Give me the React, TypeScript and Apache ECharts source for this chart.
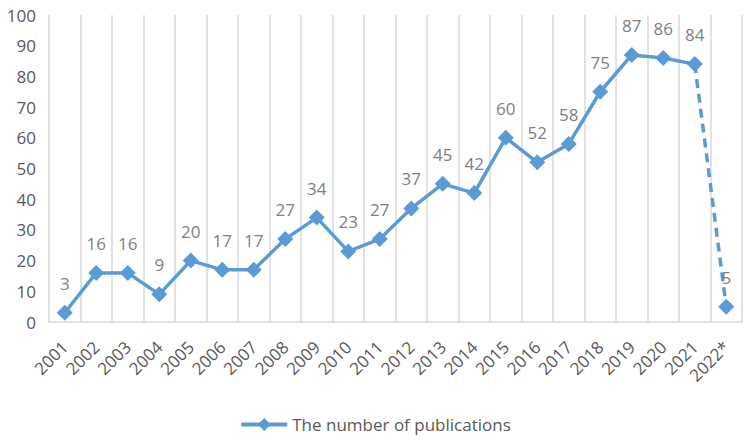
import React, { useEffect, useRef } from "react";
import * as echarts from "echarts";

const years = ["2001","2002","2003","2004","2005","2006","2007","2008","2009","2010","2011","2012","2013","2014","2015","2016","2017","2018","2019","2020","2021","2022*"];
const publications = [3,16,16,9,20,17,17,27,34,23,27,37,45,42,60,52,58,75,87,86,84,5];
const seriesName = "The number of publications";

export default function App() {
  const ref = useRef<HTMLDivElement>(null);
  useEffect(() => {
    if (!ref.current) return;
    const chart = echarts.init(ref.current, undefined, { renderer: "svg" });
    const n = publications.length;
    const solid = publications.map((v, i) => (i < n - 1 ? v : null));
    const dashed = publications.map((v, i) => {
      if (i === n - 1) return { value: v, symbol: "diamond", label: { show: true } };
      if (i === n - 2) return { value: v, symbol: "none", label: { show: false } };
      return null;
    });
    const color = "#5B9BD5";
    const font = "'Open Sans', 'Noto Sans', sans-serif";
    chart.setOption({
      animation: false,
      textStyle: { fontFamily: font },
      grid: { left: 49, right: 8, top: 15, bottom: 118 },
      legend: {
        data: [seriesName],
        top: 411,
        left: "center",
        itemWidth: 46,
        itemHeight: 16,
        itemGap: 6,
        lineStyle: { width: 4 },
        textStyle: { fontSize: 17, color: "#595959", fontFamily: font },
      },
      xAxis: {
        type: "category",
        data: years,
        boundaryGap: true,
        axisLine: { show: true, lineStyle: { color: "#d9d9d9", width: 1.5 } },
        axisTick: { show: false },
        splitLine: { show: true, lineStyle: { color: "#d9d9d9", width: 1.5 } },
        axisLabel: { rotate: 45, fontSize: 17, color: "#595959", margin: 22, fontFamily: font, interval: 0 },
      },
      yAxis: {
        type: "value",
        min: 0,
        max: 100,
        interval: 10,
        axisLine: { show: false },
        axisTick: { show: false },
        splitLine: { show: false },
        axisLabel: { fontSize: 17, color: "#595959", margin: 13, fontFamily: font },
      },
      series: [
        {
          name: seriesName,
          type: "line",
          data: solid,
          symbol: "diamond",
          symbolSize: 16,
          itemStyle: { color },
          lineStyle: { color, width: 3.5 },
          label: { show: true, position: "top", distance: 13, fontSize: 17, color: "#7f7f7f", fontFamily: font },
        },
        {
          name: seriesName,
          type: "line",
          data: dashed,
          symbol: "diamond",
          symbolSize: 16,
          connectNulls: false,
          itemStyle: { color },
          lineStyle: { color, width: 3.5, type: [9, 6] },
          label: { show: false, position: "top", distance: 13, fontSize: 17, color: "#7f7f7f", fontFamily: font },
        },
      ],
    });
    return () => chart.dispose();
  }, []);
  return <div ref={ref} style={{ position: "absolute", left: 0, top: 0, width: 750, height: 440 }} />;
}
